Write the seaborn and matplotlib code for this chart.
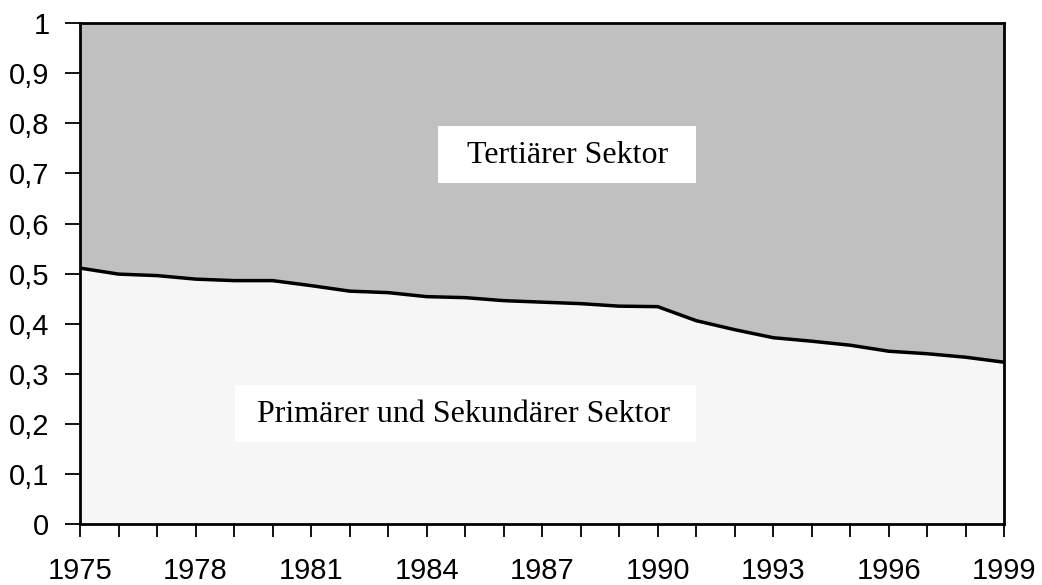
import numpy as np
import pandas as pd
import seaborn as sns
import matplotlib.pyplot as plt
from matplotlib.patches import Rectangle

# share of primary + secondary sector
years = list(range(1975, 2000))
share_prim_sek = [0.511, 0.499, 0.496, 0.489, 0.486, 0.486, 0.476, 0.465, 0.462, 0.454,
                  0.452, 0.446, 0.443, 0.440, 0.435, 0.434, 0.406, 0.388, 0.372, 0.365,
                  0.357, 0.345, 0.340, 0.333, 0.323]
y_ticks = [0, 0.1, 0.2, 0.3, 0.4, 0.5, 0.6, 0.7, 0.8, 0.9, 1]
y_tick_labels = ['0', '0,1', '0,2', '0,3', '0,4', '0,5', '0,6', '0,7', '0,8', '0,9', '1']
label_top = 'Tertiärer Sektor'
label_bottom = 'Primärer und Sekundärer Sektor'

df = pd.DataFrame({'year': years, 'share': share_prim_sek})
df['rest'] = 1 - df['share']

sns.set_style('white')
plt.rcParams['font.family'] = ['Liberation Sans', 'DejaVu Sans']
plt.rcParams['text.color'] = 'black'
plt.rcParams['xtick.color'] = 'black'
plt.rcParams['ytick.color'] = 'black'

fig = plt.figure(figsize=(10.42, 5.85), dpi=100)
ax = fig.add_axes([0.0768, 0.1043, 0.887, 0.856])

# stacked areas
ax.stackplot(df['year'], df['share'], df['rest'], colors=['#f6f6f6', '#c0c0c0'], linewidth=0)
sns.lineplot(x='year', y='share', data=df, color='black', linewidth=2.5, ax=ax)

ax.set_xlim(1975, 1999)
ax.set_ylim(0, 1)
ax.set_xticks(years)
ax.set_xticklabels([str(y) if (y - 1975) % 3 == 0 else '' for y in years])
ax.set_yticks(y_ticks)
ax.set_yticklabels(y_tick_labels)
ax.tick_params(axis='x', direction='out', length=9, width=1.3, pad=15, labelsize=21, bottom=True)
ax.tick_params(axis='y', direction='out', length=11, width=1.3, pad=11, labelsize=21, left=True)
ax.set_xlabel('')
ax.set_ylabel('')
for s in ax.spines.values():
    s.set_visible(True)
    s.set_color('black')
    s.set_linewidth(2)

# label boxes
ax.add_patch(Rectangle((1984.30, 0.681), 6.70, 0.114, facecolor='white', edgecolor='none', zorder=3))
ax.add_patch(Rectangle((1979.02, 0.164), 11.98, 0.114, facecolor='white', edgecolor='none', zorder=3))
ax.text(1987.65, 0.720, label_top, family='Liberation Serif', fontsize=23,
        ha='center', va='baseline', zorder=4)
ax.text(1984.95, 0.204, label_bottom, family='Liberation Serif', fontsize=23,
        ha='center', va='baseline', zorder=4)

plt.savefig('out.png', dpi=100)
